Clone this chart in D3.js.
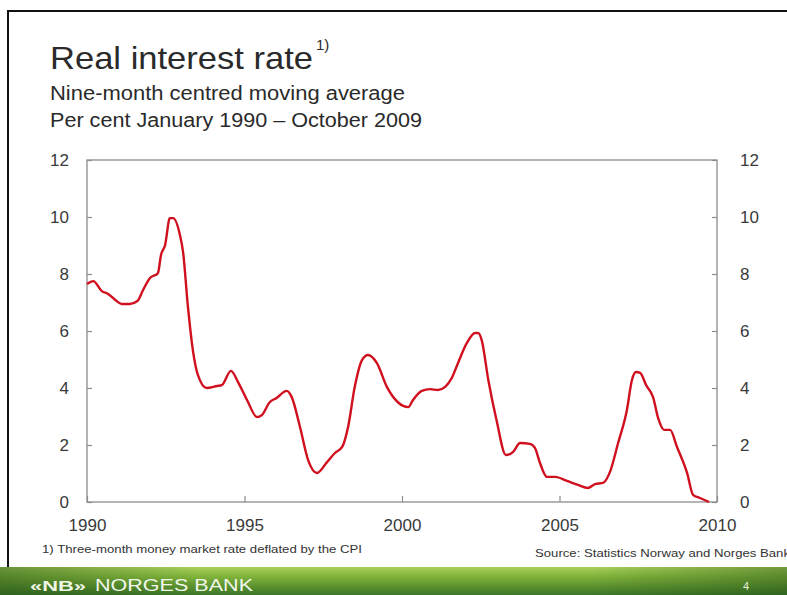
<!DOCTYPE html>
<html><head><meta charset="utf-8">
<script src="https://cdn.jsdelivr.net/npm/d3@7/dist/d3.min.js"></script>
<style>
html,body{margin:0;padding:0;background:#fff;}
svg{display:block;font-family:"Liberation Sans",Arial,sans-serif;}
</style></head>
<body>
<svg id="c" width="787" height="595"></svg>
<script>
// Data: real interest rate, nine-month centred moving average (per cent)
const years = [1990.0,1990.2,1990.47,1990.67,1990.9,1991.1,1991.36,1991.6,1991.78,1992.0,1992.25,1992.35,1992.48,1992.63,1992.73,1992.95,1993.05,1993.2,1993.37,1993.52,1993.8,1994.13,1994.28,1994.57,1994.8,1995.08,1995.4,1995.55,1995.8,1996.02,1996.34,1996.5,1996.76,1997.02,1997.3,1997.62,1997.87,1998.1,1998.29,1998.5,1998.73,1998.92,1999.2,1999.52,1999.87,2000.2,2000.35,2000.63,2000.89,2001.14,2001.37,2001.58,2001.78,2002.06,2002.32,2002.42,2002.53,2002.74,2003.0,2003.3,2003.52,2003.75,2004.06,2004.22,2004.38,2004.6,2004.86,2005.24,2005.59,2005.9,2006.13,2006.38,2006.6,2006.86,2007.14,2007.3,2007.43,2007.56,2007.75,2007.97,2008.13,2008.32,2008.51,2008.73,2009.05,2009.24,2009.46,2009.75];
const rate = [7.65,7.75,7.4,7.3,7.09,6.95,6.95,7.05,7.44,7.86,8.03,8.67,9.02,9.96,9.96,9.37,8.77,6.9,5.26,4.46,4.0,4.07,4.1,4.6,4.2,3.58,2.98,3.05,3.5,3.65,3.9,3.68,2.64,1.47,1.02,1.4,1.72,1.93,2.64,4.04,4.98,5.16,4.88,4.04,3.5,3.33,3.58,3.9,3.96,3.93,4.04,4.35,4.88,5.58,5.93,5.93,5.68,4.28,2.88,1.65,1.75,2.07,2.04,1.9,1.37,0.88,0.88,0.74,0.6,0.49,0.63,0.67,1.05,2.07,3.23,4.28,4.56,4.53,4.1,3.68,2.95,2.53,2.53,1.93,1.02,0.25,0.14,0.0];
const yTicks = [0,2,4,6,8,10,12];
const xTicks = [1990,1995,2000,2005,2010];

const svg = d3.select("#c");
const W = 787, H = 595;
const m = {left:87, right:717, top:160, bottom:502};

// slide border
svg.append("rect").attr("x",0).attr("y",0).attr("width",W).attr("height",H).attr("fill","#fff");
svg.append("line").attr("x1",8).attr("x2",W).attr("y1",11).attr("y2",11).attr("stroke","#111").attr("stroke-width",2);
svg.append("line").attr("x1",8).attr("x2",8).attr("y1",10).attr("y2",568).attr("stroke","#111").attr("stroke-width",2);

// title
svg.append("text").attr("x",50).attr("y",69).attr("fill","#2a2a2a").attr("font-size",32)
  .attr("textLength",263).attr("lengthAdjust","spacingAndGlyphs").text("Real interest rate");
svg.append("text").attr("x",316).attr("y",50).attr("fill","#2a2a2a").attr("font-size",15).text("1)");
svg.append("text").attr("x",50).attr("y",100).attr("fill","#2a2a2a").attr("font-size",20)
  .attr("textLength",355).attr("lengthAdjust","spacingAndGlyphs").text("Nine-month centred moving average");
svg.append("text").attr("x",50).attr("y",127).attr("fill","#2a2a2a").attr("font-size",20)
  .attr("textLength",372).attr("lengthAdjust","spacingAndGlyphs").text("Per cent January 1990 \u2013 October 2009");

// scales
const x = d3.scaleLinear().domain([1990,2010]).range([m.left,m.right]);
const y = d3.scaleLinear().domain([0,12]).range([m.bottom,m.top]);

// frame
svg.append("rect").attr("x",m.left).attr("y",m.top).attr("width",m.right-m.left).attr("height",m.bottom-m.top)
  .attr("fill","none").attr("stroke","#8c8c8c").attr("stroke-width",1.3);

// axes
const axL = d3.axisLeft(y).tickValues(yTicks).tickSize(-5).tickPadding(18).tickFormat(d3.format("d"));
const axR = d3.axisRight(y).tickValues(yTicks).tickSize(-5).tickPadding(23).tickFormat(d3.format("d"));
const axB = d3.axisBottom(x).tickValues(xTicks).tickSize(-6).tickPadding(17).tickFormat(d3.format("d"));
function style(g){
  g.select(".domain").remove();
  g.selectAll(".tick line").attr("stroke","#8c8c8c").attr("stroke-width",1.2);
  g.selectAll(".tick text").attr("fill","#3a3a3a").attr("font-size",17).attr("font-family","Liberation Sans, Arial, sans-serif");
}
svg.append("g").attr("transform",`translate(${m.left},0)`).call(axL).call(style);
svg.append("g").attr("transform",`translate(${m.right},0)`).call(axR).call(style);
svg.append("g").attr("transform",`translate(0,${m.bottom})`).call(axB).call(style);

// line
const pts = years.map((yr,i)=>[yr,rate[i]]);
const line = d3.line().x(d=>x(d[0])).y(d=>y(d[1])).curve(d3.curveMonotoneX);
svg.append("path").datum(pts).attr("d",line).attr("fill","none").attr("stroke","#d0101e")
  .attr("stroke-width",2.4).attr("stroke-linejoin","round");

// footnotes
svg.append("text").attr("x",42).attr("y",553).attr("fill","#333").attr("font-size",11)
  .attr("textLength",320).attr("lengthAdjust","spacingAndGlyphs").text("1) Three-month money market rate deflated by the CPI");
svg.append("text").attr("x",535).attr("y",557).attr("fill","#333").attr("font-size",11.5)
  .attr("textLength",255).attr("lengthAdjust","spacingAndGlyphs").text("Source: Statistics Norway and Norges Bank");

// footer bar
const defs = svg.append("defs");
const gr = defs.append("linearGradient").attr("id","gv").attr("x1",0).attr("x2",0).attr("y1",0).attr("y2",1);
gr.append("stop").attr("offset","0%").attr("stop-color","#a9d05a");
gr.append("stop").attr("offset","35%").attr("stop-color","#7fb23a");
gr.append("stop").attr("offset","100%").attr("stop-color","#3c7526");
const gh = defs.append("linearGradient").attr("id","gh").attr("x1",0).attr("x2",1).attr("y1",0).attr("y2",0);
gh.append("stop").attr("offset","0%").attr("stop-color","#1f4a14").attr("stop-opacity",0.45);
gh.append("stop").attr("offset","25%").attr("stop-color","#1f4a14").attr("stop-opacity",0.0);
gh.append("stop").attr("offset","75%").attr("stop-color","#1f4a14").attr("stop-opacity",0.0);
gh.append("stop").attr("offset","100%").attr("stop-color","#1f4a14").attr("stop-opacity",0.4);
svg.append("rect").attr("x",0).attr("y",567).attr("width",W).attr("height",H-567).attr("fill","url(#gv)");
svg.append("rect").attr("x",0).attr("y",567).attr("width",W).attr("height",H-567).attr("fill","url(#gh)");
svg.append("text").attr("x",30).attr("y",591).attr("fill","#eef5e4").attr("font-size",15).attr("font-weight","bold")
  .attr("textLength",56).attr("lengthAdjust","spacingAndGlyphs").text("\u00abNB\u00bb");
svg.append("text").attr("x",95).attr("y",591).attr("fill","#f2f7ec").attr("font-size",16)
  .attr("textLength",158).attr("lengthAdjust","spacingAndGlyphs").text("NORGES BANK");
svg.append("text").attr("x",743).attr("y",590).attr("fill","#e8f0dc").attr("font-size",11).text("4");
</script>
</body></html>
